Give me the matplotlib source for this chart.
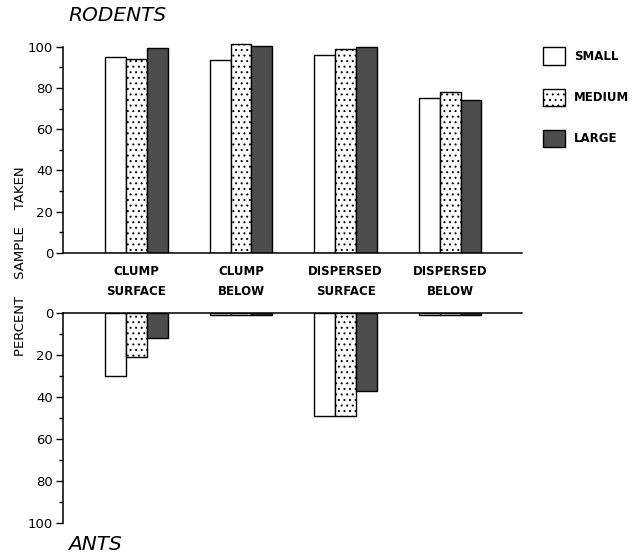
import matplotlib.pyplot as plt
import numpy as np

habitats = ["CLUMP\nSURFACE", "CLUMP\nBELOW", "DISPERSED\nSURFACE", "DISPERSED\nBELOW"]
sizes = ["SMALL", "MEDIUM", "LARGE"]

# percent of seed sample taken, per habitat, for each seed size
rodents_small = [95, 93.5, 96, 75]
rodents_medium = [94, 101.5, 99, 78]
rodents_large = [99.5, 100.5, 100, 74]

ants_small = [30, 1, 49, 1]
ants_medium = [21, 1, 49, 1]
ants_large = [12, 1, 37, 1]

styles = [
    dict(facecolor="white", hatch=None),
    dict(facecolor="white", hatch="..."),
    dict(facecolor="#4d4d4d", hatch=None),
]

plt.rcParams["hatch.linewidth"] = 0.7
plt.rcParams["hatch.color"] = "#333333"
plt.rcParams["font.family"] = "DejaVu Sans"

fig = plt.figure(figsize=(6.36, 5.56), dpi=100)
ax_top = fig.add_axes([0.099, 0.545, 0.722, 0.382])
ax_bot = fig.add_axes([0.099, 0.0594, 0.722, 0.3777])

x = np.arange(len(habitats))
w = 0.2
offsets = [-w, 0, w]

bars = []
for ax, series in [(ax_top, [rodents_small, rodents_medium, rodents_large]),
                   (ax_bot, [ants_small, ants_medium, ants_large])]:
    for off, vals, st in zip(offsets, series, styles):
        b = ax.bar(x + off, vals, width=w, facecolor=st["facecolor"], hatch=st["hatch"],
                   edgecolor="black", linewidth=1.0)
        if ax is ax_top:
            bars.append(b)
    ax.set_xlim(-0.703, 3.689)
    ax.spines["right"].set_visible(False)
    ax.spines["left"].set_bounds(0, 100)
    ax.set_yticks(range(0, 101, 20))
    ax.set_yticks(range(10, 100, 20), minor=True)
    ax.tick_params(axis="y", which="major", length=5, width=1.0, labelsize=9.5, pad=2)
    ax.tick_params(axis="y", which="minor", length=3, width=1.0)
    for s in ax.spines.values():
        s.set_linewidth(1.1)

ax_top.set_ylim(0, 103)
ax_top.spines["top"].set_visible(False)
ax_top.set_xticks(x, habitats)
ax_top.tick_params(axis="x", length=0, pad=9, labelsize=8.5)
for lbl in ax_top.get_xticklabels():
    lbl.set_linespacing(1.7)
    lbl.set_fontweight("bold")

ax_bot.set_ylim(100, 0)
ax_bot.spines["bottom"].set_visible(False)
ax_bot.set_xticks([])

fig.text(0.107, 0.972, "RODENTS", fontsize=14.5, style="italic", ha="left", va="center")
fig.text(0.107, 0.020, "ANTS", fontsize=14.5, style="italic", ha="left", va="center")
fig.text(0.033, 0.53, "PERCENT    SAMPLE    TAKEN", fontsize=9.5, rotation=90,
         ha="center", va="center")

leg = ax_top.legend([b[0] for b in bars], sizes, loc="upper left",
                    bbox_to_anchor=(1.035, 0.99), frameon=False, fontsize=8.5,
                    handlelength=1.9, handleheight=1.9, labelspacing=2.0,
                    handletextpad=0.7, borderaxespad=0)
for t in leg.get_texts():
    t.set_fontweight("bold")

fig.savefig("out.png", dpi=100)
